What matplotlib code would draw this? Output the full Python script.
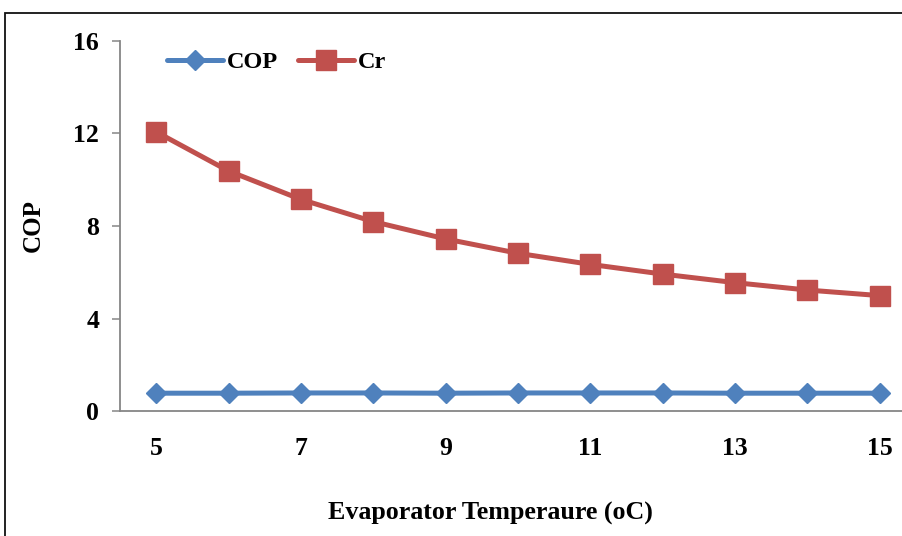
import matplotlib
matplotlib.use("Agg")
import matplotlib.pyplot as plt
from matplotlib.patches import Rectangle

# Data
evap_temp = [5, 6, 7, 8, 9, 10, 11, 12, 13, 14, 15]
cop = [0.77, 0.77, 0.78, 0.78, 0.77, 0.78, 0.78, 0.78, 0.77, 0.77, 0.77]
cr = [12.07, 10.38, 9.15, 8.19, 7.44, 6.82, 6.34, 5.92, 5.55, 5.23, 4.99]
x_ticks = [5, 7, 9, 11, 13, 15]
y_ticks = [0, 4, 8, 12, 16]

plt.rcParams['font.family'] = ['Liberation Serif', 'DejaVu Serif']
plt.rcParams['font.weight'] = 'bold'

W, H = 903, 536
fig = plt.figure(figsize=(W / 100, H / 100), dpi=100)
ax = fig.add_axes([120 / W, (H - 411) / H, (916 - 120) / W, (411 - 41) / H])

ax.plot(evap_temp, cop, color='#4F81BD', lw=3.6, marker='D', markersize=10,
        label='COP', solid_capstyle='round')
ax.plot(evap_temp, cr, color='#C0504D', lw=3.6, marker='s', markersize=14,
        label='Cr', solid_capstyle='round')

ax.set_xlim(4.5, 15.5)
ax.set_ylim(0, 16)
ax.set_xticks(x_ticks)
ax.set_xticklabels([str(t) for t in x_ticks])
ax.set_yticks(y_ticks)
ax.set_yticklabels([str(t) for t in y_ticks])
ax.tick_params(axis='x', length=0, pad=19, labelsize=18.5)
ax.tick_params(axis='y', length=6, width=1.1, color='#868686', pad=9, labelsize=18.5)

for side in ['top', 'right']:
    ax.spines[side].set_visible(False)
for side in ['left', 'bottom']:
    ax.spines[side].set_color('#868686')
    ax.spines[side].set_linewidth(1.3)

fig.text(490 / W, 1 - 513 / H, 'Evaporator Temperaure (oC)', ha='center', va='center',
         fontsize=18.7, fontweight='bold')
fig.text(33.5 / W, 1 - 226 / H, 'COP', ha='center', va='center', rotation=90,
         fontsize=18, fontweight='bold')

fig.legend(loc='center left', bbox_to_anchor=(167 / W, 1 - 62 / H), ncol=2,
           frameon=False, fontsize=17.5, handlelength=2.3, handletextpad=0.15,
           columnspacing=0.85, borderpad=0, borderaxespad=0)

# outer chart border (cut off at right and bottom)
fig.patches.append(Rectangle((5 / W, -0.1), 2, 1.1 - 13 / H, transform=fig.transFigure,
                             fill=False, edgecolor='#111111', lw=1.3))

fig.savefig('out.png', dpi=100)
